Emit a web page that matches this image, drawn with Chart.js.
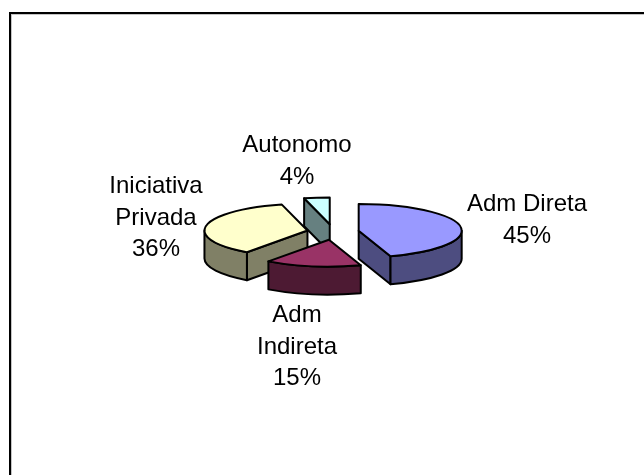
<!DOCTYPE html>
<html>
<head>
<meta charset="utf-8">
<style>html,body{margin:0;padding:0;background:#fff}canvas{display:block}</style>
<script src="https://cdn.jsdelivr.net/npm/chart.js@4"></script>
</head>
<body>
<canvas id="c" width="644" height="475"></canvas>
<script>
const categories = ['Adm Direta', 'Adm Indireta', 'Iniciativa Privada', 'Autonomo'];
const shares = [45, 15, 36, 4];
const topColors = ['#9999FF', '#993366', '#FFFFCC', '#CCFFFF'];
const sideColors = ['#4D4D80', '#4D1A33', '#808066', '#668080'];
const labelLines = [['Adm Direta'], ['Adm', 'Indireta'], ['Iniciativa', 'Privada'], ['Autonomo']];
const labelAnchors = [[527, 211], [297, 322], [156, 193], [297, 152]];
const drawOrder = [3, 2, 0, 1];

const TILT = 0.26, DEPTH = 28, EXPLODE = 26, EXPLODE_TILT = 0.3, LINE_H = 31.5;

const pie3d = {
  id: 'pie3d',
  beforeDraw(chart) {
    const c = chart.ctx;
    c.save();
    c.fillStyle = '#fff'; c.fillRect(0, 0, 644, 475);
    c.fillStyle = '#c4c4c4'; c.fillRect(11, 14, 633, 1); c.fillRect(11, 14, 1, 461);
    c.fillStyle = '#000'; c.fillRect(9, 12, 635, 2); c.fillRect(9, 12, 2, 463);
    c.restore();
  },
  beforeDatasetDraw(chart) {
    const c = chart.ctx, arcs = chart.getDatasetMeta(0).data;
    c.save();
    c.lineWidth = 2; c.strokeStyle = '#000'; c.lineJoin = 'round';
    for (const i of drawOrder) {
      const a = arcs[i], r = a.outerRadius, ry = r * TILT;
      const s = a.startAngle, e = a.endAngle, m = (s + e) / 2;
      const ax = a.x + Math.cos(m) * EXPLODE, ay = a.y + Math.sin(m) * EXPLODE * EXPLODE_TILT;
      const rim = t => [ax + Math.cos(t) * r, ay + Math.sin(t) * ry];
      c.fillStyle = sideColors[i];
      const cut = t => {
        const [x, y] = rim(t);
        c.beginPath(); c.moveTo(ax, ay); c.lineTo(x, y); c.lineTo(x, y + DEPTH); c.lineTo(ax, ay + DEPTH);
        c.closePath(); c.fill(); c.stroke();
      };
      if (-Math.cos(s) > 1e-6) cut(s);
      if (Math.cos(e) > 1e-6) cut(e);
      const f0 = Math.max(s, 0), f1 = Math.min(e, Math.PI);
      if (f1 > f0) {
        c.beginPath();
        c.ellipse(ax, ay, r, ry, 0, f0, f1);
        c.ellipse(ax, ay + DEPTH, r, ry, 0, f1, f0, true);
        c.closePath(); c.fill(); c.stroke();
      }
      c.fillStyle = topColors[i];
      c.beginPath(); c.moveTo(ax, ay);
      c.ellipse(ax, ay, r, ry, 0, s, e);
      c.closePath(); c.fill(); c.stroke();
    }
    c.restore();
    return false;
  },
  afterDatasetsDraw(chart) {
    const c = chart.ctx, data = chart.data.datasets[0].data;
    const total = data.reduce((p, v) => p + v, 0);
    c.save();
    c.fillStyle = '#000'; c.textAlign = 'center'; c.textBaseline = 'alphabetic';
    c.font = '24px "Liberation Sans", Arial, sans-serif';
    data.forEach((v, i) => {
      const lines = labelLines[i].concat(Math.round(v / total * 100) + '%');
      lines.forEach((t, k) => c.fillText(t, labelAnchors[i][0], labelAnchors[i][1] + k * LINE_H));
    });
    c.restore();
  }
};

new Chart(document.getElementById('c'), {
  type: 'pie',
  data: {
    labels: categories,
    datasets: [{ data: shares, backgroundColor: topColors, borderWidth: 0, offset: EXPLODE }]
  },
  options: {
    responsive: false,
    animation: false,
    events: [],
    layout: { padding: { left: 217, right: 195, top: 116, bottom: 127 } },
    plugins: { legend: { display: false }, tooltip: { enabled: false }, title: { display: false } }
  },
  plugins: [pie3d]
});
</script>
</body>
</html>
